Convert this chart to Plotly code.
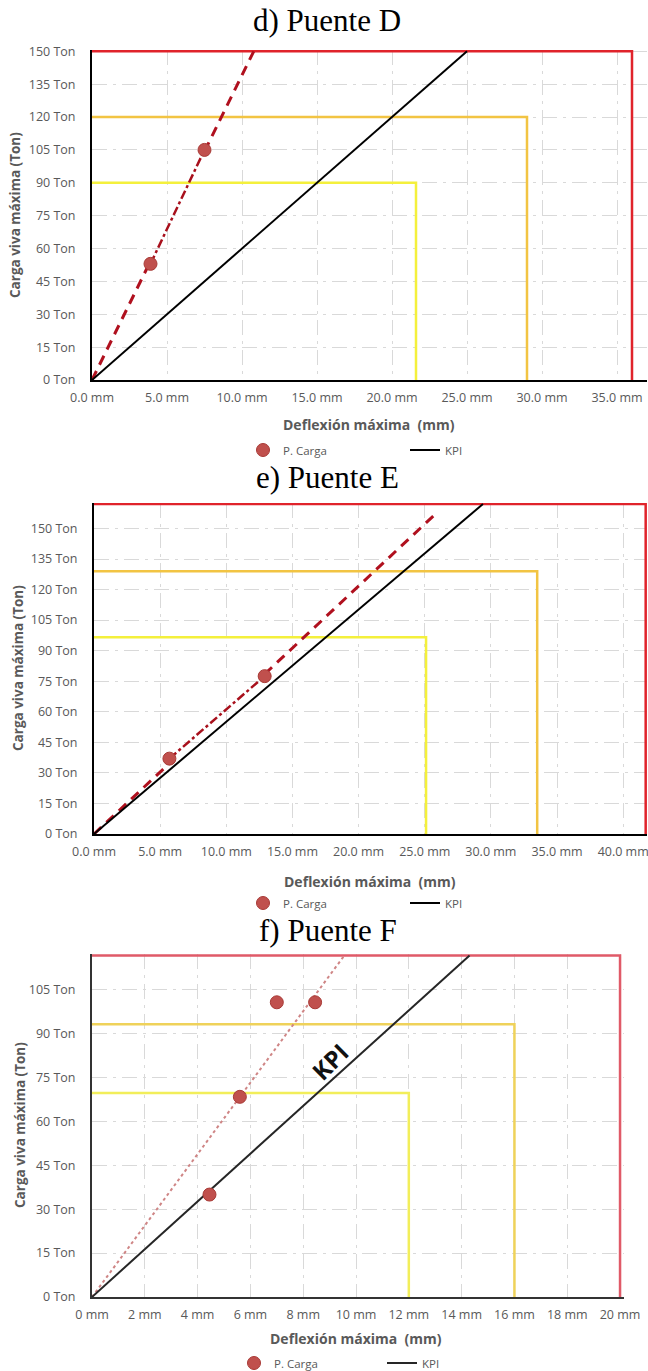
import plotly.graph_objects as go

W, H = 648, 1371

# ---------------- data ----------------
# Panel d) Puente D
d_load_x = [3.9, 7.5]
d_load_y = [53, 105]
d_kpi_x = [0, 25.0]
d_kpi_y = [0, 150]
d_lim_x = [21.6, 29.0, 36.0]      # yellow, gold, red
d_lim_y = [90, 120, 150]

# Panel e) Puente E
e_load_x = [5.7, 12.9]
e_load_y = [37, 77.5]
e_kpi_x = [0, 29.4]
e_kpi_y = [0, 162]
e_lim_x = [25.1, 33.5, 41.7]
e_lim_y = [96.6, 129, 162]

# Panel f) Puente F
f_load_x = [4.45, 5.6, 7.0, 8.45]
f_load_y = [35, 68.4, 100.7, 100.7]
f_kpi_x = [0, 14.3]
f_kpi_y = [0, 116.7]
f_lim_x = [12, 16, 20]
f_lim_y = [69.7, 93.2, 116.7]

d_xticks = [0, 5, 10, 15, 20, 25, 30, 35]
e_xticks = [0, 5, 10, 15, 20, 25, 30, 35, 40]
f_xticks = [0, 2, 4, 6, 8, 10, 12, 14, 16, 18, 20]
d_yticks = [0, 15, 30, 45, 60, 75, 90, 105, 120, 135, 150]
e_yticks = [0, 15, 30, 45, 60, 75, 90, 105, 120, 135, 150]
f_yticks = [0, 15, 30, 45, 60, 75, 90, 105]

titles = ["d) Puente D", "e) Puente E", "f) Puente F"]
x_title = "Deflexión máxima  (mm)"
y_title = "Carga viva máxima (Ton)"

# ---------------- style ----------------
GRAY = "#595959"
TICKFONT = dict(family="Open Sans", size=12.5, color=GRAY)
MARKER_C = "#c0504d"
LIM_COLORS = ["#f4f03c", "#f2c443", "#e0232b"]
LIM_COLORS_F = ["#f2ee5a", "#efd25a", "#e05a68"]

fig = go.Figure()


def px_x(p):
    return p / W


def px_y(p):
    return 1 - p / H


def fit_slope(xs, ys):
    return sum(a * b for a, b in zip(xs, ys)) / sum(a * a for a in xs)


def add_panel(idx, lx, ly, kx, ky, limx, limy, yend, trend_style, lim_colors, kpi_color, legend):
    xa = "x" if idx == 1 else f"x{idx}"
    ya = "y" if idx == 1 else f"y{idx}"
    for cx, cy, col in zip(limx, limy, lim_colors):
        fig.add_trace(go.Scatter(x=[0, cx, cx], y=[cy, cy, 0], mode="lines",
                                 line=dict(color=col, width=2.5), showlegend=False,
                                 hoverinfo="skip", xaxis=xa, yaxis=ya))
    slope = fit_slope(lx, ly)
    xend = yend / slope
    if trend_style == "dash":
        tx = [0, lx[0], None, lx[-1], xend]
        ty = [0, slope * lx[0], None, slope * lx[-1], yend]
        fig.add_trace(go.Scatter(x=tx, y=ty, mode="lines",
                                 line=dict(color="#b0101e", width=3, dash="10px,7px"),
                                 showlegend=False, hoverinfo="skip", xaxis=xa, yaxis=ya))
        fig.add_trace(go.Scatter(x=lx, y=ly, mode="lines",
                                 line=dict(color="#a8101c", width=2.5, dash="dashdot"),
                                 showlegend=False, hoverinfo="skip", xaxis=xa, yaxis=ya))
    else:
        fig.add_trace(go.Scatter(x=[0, xend], y=[0, yend], mode="lines",
                                 line=dict(color="#cf8585", width=2, dash="dot"),
                                 showlegend=False, hoverinfo="skip", xaxis=xa, yaxis=ya))
    fig.add_trace(go.Scatter(x=kx, y=ky, mode="lines", name="KPI",
                             line=dict(color=kpi_color, width=2), xaxis=xa, yaxis=ya,
                             legend=legend, legendrank=2))
    fig.add_trace(go.Scatter(x=lx, y=ly, mode="markers", name="P. Carga",
                             marker=dict(color=MARKER_C, size=13,
                                         line=dict(color="#a83a36", width=1)),
                             xaxis=xa, yaxis=ya, legend=legend, legendrank=1))


add_panel(1, d_load_x, d_load_y, d_kpi_x, d_kpi_y, d_lim_x, d_lim_y, 150, "dash",
          LIM_COLORS, "#000000", "legend")
add_panel(2, e_load_x, e_load_y, e_kpi_x, e_kpi_y, e_lim_x, e_lim_y, 158, "dash",
          LIM_COLORS, "#000000", "legend2")
add_panel(3, f_load_x, f_load_y, f_kpi_x, f_kpi_y, f_lim_x, f_lim_y, 116.7, "dot",
          LIM_COLORS_F, "#262626", "legend3")

# ---------------- axes ----------------
panels = [
    ((92, 647), (50, 380), [0, 37], [0, 150.6], d_xticks, d_yticks, "{:.1f} mm", "#000000"),
    ((94, 647), (503, 834), [0, 41.8], [0, 162.5], e_xticks, e_yticks, "{:.1f} mm", "#000000"),
    ((92, 624), (954, 1297), [0, 20.15], [0, 117.2], f_xticks, f_yticks, "{:d} mm", "#333333"),
]
layout = {}
for i, (xd, yd, xr, yr, xt, yt, xf, ac) in enumerate(panels, start=1):
    sx = "" if i == 1 else str(i)
    layout[f"xaxis{sx}"] = dict(
        domain=[px_x(xd[0]), px_x(xd[1])], range=xr, anchor=f"y{sx}",
        tickmode="array", tickvals=xt, ticktext=[xf.format(v) for v in xt],
        tickfont=TICKFONT, ticklabeloverflow="allow",
        showgrid=True, gridcolor="#d9d9d9", gridwidth=1, griddash="longdashdot",
        showline=True, linecolor=ac, linewidth=2, zeroline=False,
        ticks="", ticklabelstandoff=5, fixedrange=True, automargin=False)
    layout[f"yaxis{sx}"] = dict(
        domain=[px_y(yd[1]), px_y(yd[0])], range=yr, anchor=f"x{sx}",
        tickmode="array", tickvals=yt, ticktext=[f"{v} Ton" for v in yt],
        tickfont=TICKFONT, ticklabeloverflow="allow",
        showgrid=True, gridcolor="#d9d9d9", gridwidth=1, griddash="longdashdot",
        showline=True, linecolor=ac, linewidth=2, zeroline=False,
        ticks="", ticklabelstandoff=12, fixedrange=True, automargin=False)

# ---------------- annotations ----------------
ann = []
title_pos = [(327, 21), (327, 478), (328, 930)]
for t, (cx, cy) in zip(titles, title_pos):
    ann.append(dict(text=t, x=px_x(cx), y=px_y(cy), xref="paper", yref="paper",
                    xanchor="center", yanchor="middle", showarrow=False,
                    font=dict(family="Liberation Serif", size=31, color="#000000")))
xt_pos = [(369, 424), (370, 881), (356, 1338)]
for cx, cy in xt_pos:
    ann.append(dict(text=f"<b>{x_title}</b>", x=px_x(cx), y=px_y(cy), xref="paper",
                    yref="paper", xanchor="center", yanchor="middle", showarrow=False,
                    font=dict(family="Open Sans", size=14, color=GRAY)))
yt_pos = [(15, 215), (18, 668), (20, 1125)]
for cx, cy in yt_pos:
    ann.append(dict(text=f"<b>{y_title}</b>", x=px_x(cx), y=px_y(cy), xref="paper",
                    yref="paper", xanchor="center", yanchor="middle", showarrow=False,
                    textangle=-90, font=dict(family="Open Sans", size=13.5, color=GRAY)))
ann.append(dict(text="<b>KPI</b>", x=9.0, y=80.6, xref="x3", yref="y3", showarrow=False,
                textangle=-45, font=dict(family="Open Sans", size=24, color="#111111")))

legend_common = dict(orientation="h", xanchor="left", yanchor="middle",
                     font=dict(family="Open Sans", size=11.5, color=GRAY),
                     bgcolor="rgba(0,0,0,0)", traceorder="normal")
leg_specs = [(243, 450, 117), (243, 903, 117), (234, 1363, 103)]

legends = {}
for k, (lx_, ly_, ew) in enumerate(leg_specs):
    key = "legend" if k == 0 else f"legend{k + 1}"
    legends[key] = dict(x=px_x(lx_), y=px_y(ly_), entrywidth=ew, **legend_common)

fig.update_layout(
    width=W, height=H, margin=dict(l=0, r=0, t=0, b=0, autoexpand=False),
    paper_bgcolor="white", plot_bgcolor="white",
    annotations=ann,
    **legends,
    **layout,
)

fig.write_html("out.html", config={"displayModeBar": False},
               post_script="document.body.style.margin='0';")
